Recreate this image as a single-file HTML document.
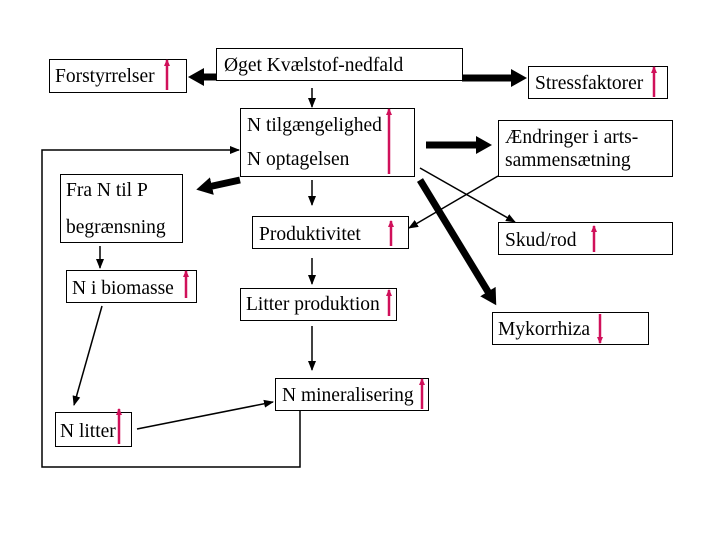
<!DOCTYPE html>
<html><head><meta charset="utf-8"><style>
html,body{margin:0;padding:0;background:#fff}
svg{display:block}
text{font-family:"Liberation Serif",serif;font-size:19.5px;fill:#000}
</style></head><body>
<svg width="720" height="540" viewBox="0 0 720 540" xmlns="http://www.w3.org/2000/svg">
<defs>
<marker id="a" markerWidth="10" markerHeight="10" refX="9" refY="5" orient="auto" markerUnits="userSpaceOnUse"><path d="M0,1 L10,5 L0,9 Z" fill="#000"/></marker>
<marker id="b" markerWidth="18" markerHeight="20" refX="4" refY="10" orient="auto" markerUnits="userSpaceOnUse"><path d="M0,1 L16,10 L0,19 Z" fill="#000"/></marker>
<marker id="p" markerWidth="8" markerHeight="8" refX="6" refY="4" orient="auto" markerUnits="userSpaceOnUse"><path d="M0,1 L7,4 L0,7 Z" fill="#d0105a"/></marker>
</defs>
<g fill="#fff" stroke="#000" stroke-width="1">
<rect x="49.5" y="59.5" width="137" height="33"/>
<rect x="216.5" y="48.5" width="246" height="32"/>
<rect x="528.5" y="66.5" width="139" height="32"/>
<rect x="240.5" y="108.5" width="174" height="68"/>
<rect x="498.5" y="120.5" width="174" height="56"/>
<rect x="60.5" y="174.5" width="122" height="68"/>
<rect x="252.5" y="216.5" width="156" height="32"/>
<rect x="498.5" y="222.5" width="174" height="32"/>
<rect x="66.5" y="270.5" width="130" height="32"/>
<rect x="240.5" y="288.5" width="156" height="32"/>
<rect x="492.5" y="312.5" width="156" height="32"/>
<rect x="275.5" y="378.5" width="153" height="32"/>
<rect x="55.5" y="412.5" width="76" height="34"/>
</g>
<text x="55" y="82">Forstyrrelser</text>
<text x="224" y="71">Øget Kvælstof-nedfald</text>
<text x="535" y="89">Stressfaktorer</text>
<text x="247" y="131">N tilgængelighed</text>
<text x="247" y="165">N optagelsen</text>
<text x="505" y="143">Ændringer i arts-</text>
<text x="505" y="166">sammensætning</text>
<text x="66" y="196">Fra N til P</text>
<text x="66" y="233">begrænsning</text>
<text x="259" y="240">Produktivitet</text>
<text x="505" y="246">Skud/rod</text>
<text x="72" y="294">N i biomasse</text>
<text x="246" y="310">Litter produktion</text>
<text x="498" y="335">Mykorrhiza</text>
<text x="282" y="401">N mineralisering</text>
<text x="60" y="437">N litter</text>
<g stroke="#d0105a" stroke-width="2.5" marker-end="url(#p)">
<line x1="167" y1="90" x2="167" y2="60"/>
<line x1="654" y1="97" x2="654" y2="67"/>
<line x1="389" y1="174" x2="389" y2="109"/>
<line x1="391" y1="246" x2="391" y2="221"/>
<line x1="594" y1="252" x2="594" y2="226"/>
<line x1="186" y1="298" x2="186" y2="271"/>
<line x1="389" y1="316" x2="389" y2="290"/>
<line x1="422" y1="409" x2="422" y2="379"/>
<line x1="119" y1="444" x2="119" y2="409"/>
<line x1="600" y1="314" x2="600" y2="343"/>
</g>
<g stroke="#000" stroke-width="7" marker-end="url(#b)">
<line x1="216" y1="77" x2="200" y2="77"/>
<line x1="462" y1="78" x2="515" y2="78"/>
<line x1="240" y1="180" x2="208" y2="187"/>
<line x1="426" y1="145" x2="480" y2="145"/>
<line x1="420" y1="180" x2="490" y2="295"/>
</g>
<g stroke="#000" stroke-width="1.5" fill="none" marker-end="url(#a)">
<line x1="312" y1="88" x2="312" y2="107"/>
<line x1="312" y1="180" x2="312" y2="205"/>
<line x1="312" y1="258" x2="312" y2="284"/>
<line x1="312" y1="326" x2="312" y2="370"/>
<line x1="100" y1="246" x2="100" y2="268"/>
<line x1="102" y1="306" x2="74" y2="405"/>
<line x1="137" y1="429" x2="273" y2="402"/>
<line x1="420" y1="168" x2="515" y2="222"/>
<line x1="498" y1="176" x2="409" y2="228"/>
<polyline points="300,411 300,467 42,467 42,150 239,150"/>
</g>
</svg>
</body></html>
